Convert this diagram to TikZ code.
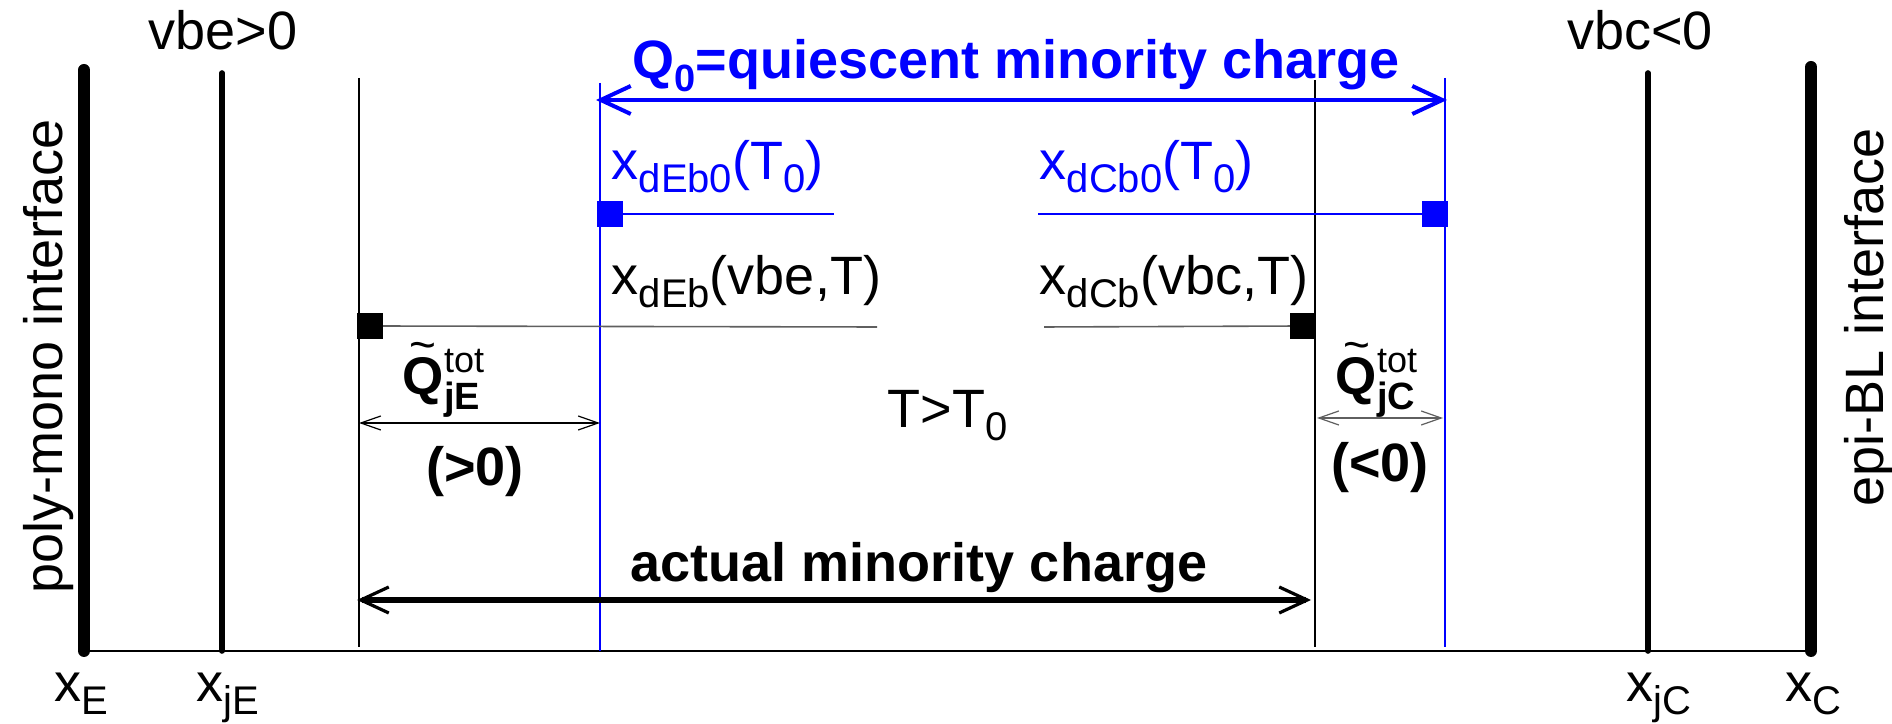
\documentclass[tikz,border=0pt]{standalone}
\usepackage{fontspec}
\setmainfont{Liberation Sans}
\usetikzlibrary{arrows.meta}
\definecolor{qblue}{RGB}{0,0,255}
\definecolor{dgrey}{RGB}{95,95,95}
\newcommand{\sbs}[1]{\raisebox{-3.25pt}{\fontsize{10}{12}\selectfont #1}}
\newcommand{\mainfs}{\fontsize{13.5}{16}\selectfont}
\newsavebox{\qglyph}
\newcommand{\tildeQ}{\sbox{\qglyph}{Q}\makebox[0pt][l]{\makebox[\wd\qglyph][c]{\raisebox{8.6pt}{\fontsize{11.5}{12}\mdseries\selectfont\textasciitilde}}}\usebox{\qglyph}}
\newcommand{\qtil}[1]{{\fontsize{13.25}{16}\bfseries\selectfont\tildeQ}\makebox[0pt][l]{\raisebox{5.5pt}{\fontsize{9}{10}\selectfont tot}}\raisebox{-3.75pt}{\fontsize{9.5}{10}\bfseries\selectfont #1}}
\begin{document}
\begin{tikzpicture}[x=0.25pt,y=-0.25pt,
  lbl/.style={inner sep=0pt, font=\mainfs},
  blbl/.style={inner sep=0pt, font=\fontsize{13.5}{16}\bfseries\selectfont},
  thickwall/.style={line width=3pt, line cap=round},
  junction/.style={line width=1.4pt, line cap=round},
  bound/.style={line width=0.55pt},
  qbound/.style={qblue, line width=0.65pt},
  bluesq/.style={fill=qblue, draw=none, minimum size=6.5pt, inner sep=0pt},
  blacksq/.style={fill=black, draw=none, minimum size=6.5pt, inner sep=0pt},
  thinarr/.style={line width=0.3pt, {Straight Barb[length=5pt,width=3.5pt]}-{Straight Barb[length=5pt,width=3.5pt]}}
]
\useasboundingbox (0,0) rectangle (1892,724);
% coordinates
\coordinate (E1) at (84,70);   \coordinate (E2) at (84,651);
\coordinate (jE1) at (222,73); \coordinate (jE2) at (222,651);
\coordinate (a1) at (359,78);  \coordinate (a2) at (359,647);
\coordinate (b1) at (600,83);  \coordinate (b2) at (600,651);
\coordinate (c1) at (1315,80); \coordinate (c2) at (1315,647);
\coordinate (d1) at (1445,78); \coordinate (d2) at (1445,647);
\coordinate (jC1) at (1648,73);\coordinate (jC2) at (1648,651);
\coordinate (C1) at (1811,67); \coordinate (C2) at (1811,651);
% baseline
\draw[line width=0.4pt] (E2) -- (C2);
% vertical lines
\draw[thickwall] (E1) -- (E2);
\draw[thickwall] (C1) -- (C2);
\draw[junction] (jE1) -- (jE2);
\draw[junction] (jC1) -- (jC2);
\draw[bound] (a1) -- (a2);
\draw[bound] (c1) -- (c2);
\draw[qbound] (b1) -- (b2);
\draw[qbound] (d1) -- (d2);
% quiescent arrow
\coordinate (qa) at (596,100); \coordinate (qb) at (1447,100);
\draw[qblue, line width=1pt, {Straight Barb[length=7.5pt,width=7pt]}-{Straight Barb[length=7.5pt,width=7pt]}] (qa) -- (qb);
\node[inner sep=0pt, anchor=base, text=qblue, font=\fontsize{13.5}{16}\bfseries\selectfont] (Q0) at (1016,79) {Q\raisebox{-3.25pt}{\fontsize{9.5}{10}\selectfont 0}=quiescent minority charge};
% blue squares and lines
\node[bluesq] (sqL) at (610,214) {};
\node[bluesq] (sqR) at (1435,214) {};
\coordinate (bl1) at (834,214); \coordinate (bl2) at (1038,214);
\draw[qblue, line width=0.3pt] (sqL.center) -- (bl1);
\draw[qblue, line width=0.3pt] (bl2) -- (sqR.center);
\node[bluesq] at (sqL) {};
\node[bluesq] at (sqR) {};
% black squares and grey lines
\coordinate (gl1) at (877,327); \coordinate (gl2) at (1044,327);
\node[blacksq] (bsqL) at (370,326) {};
\node[blacksq] (bsqR) at (1303,326) {};
\draw[dgrey, line width=0.4pt] (bsqL.center) -- (gl1);
\draw[dgrey, line width=0.4pt] (gl2) -- (bsqR.center);
\node[blacksq] at (bsqL) {};
\node[blacksq] at (bsqR) {};
% labels
\node[lbl, anchor=base west, text=qblue] (l1) at (611,180) {x\sbs{dEb0}(T\sbs{0})};
\node[lbl, anchor=base west, text=qblue] (l2) at (1039,180) {x\sbs{dCb0}(T\sbs{0})};
\node[lbl, anchor=base west] (l3) at (611,295) {x\sbs{dEb}(vbe,T)};
\node[lbl, anchor=base west] (l4) at (1039,295) {x\sbs{dCb}(vbc,T)};
\node[lbl, anchor=base] (vbe) at (223,50) {vbe>0};
\node[lbl, anchor=base] (vbc) at (1640,50) {vbc<0};
\node[lbl, anchor=base west] (TT) at (887,428) {T>T\sbs{0}};
% small arrows
\coordinate (qe1) at (359,423); \coordinate (qe2) at (600,423);
\draw[thinarr] (qe1) -- (qe2);
\coordinate (qc1) at (1317,418); \coordinate (qc2) at (1443,418);
\draw[thinarr, dgrey] (qc1) -- (qc2);
\node[inner sep=0pt, anchor=base west] (QjE) at (402,395) {\qtil{jE}};
\node[inner sep=0pt, anchor=base west] (QjC) at (1335,395) {\qtil{jC}};
\node[blbl, anchor=base] (gt) at (475,486) {(>0)};
\node[blbl, anchor=base] (lt) at (1380,482) {(<0)};
% actual charge
\coordinate (ac1) at (357,600); \coordinate (ac2) at (1311,600);
\draw[line width=1.6pt, {Straight Barb[length=7pt,width=6.5pt,line width=0.8pt]}-{Straight Barb[length=7pt,width=6.5pt,line width=0.8pt]}] (ac1) -- (ac2);
\node[blbl, anchor=base] (act) at (919,582) {actual minority charge};
% axis labels
\node[lbl, anchor=base west] (xE) at (54,702) {x\sbs{E}};
\node[lbl, anchor=base west] (xjE) at (196,702) {x\sbs{jE}};
\node[lbl, anchor=base west] (xjC) at (1626,702) {x\sbs{jC}};
\node[lbl, anchor=base west] (xC) at (1785,702) {x\sbs{C}};
% interfaces
\node[lbl, rotate=90, anchor=base] (poly) at (62,356) {poly-mono interface};
\node[lbl, rotate=90, anchor=base] (epi) at (1883,317) {epi-BL interface};
\end{tikzpicture}
\end{document}
